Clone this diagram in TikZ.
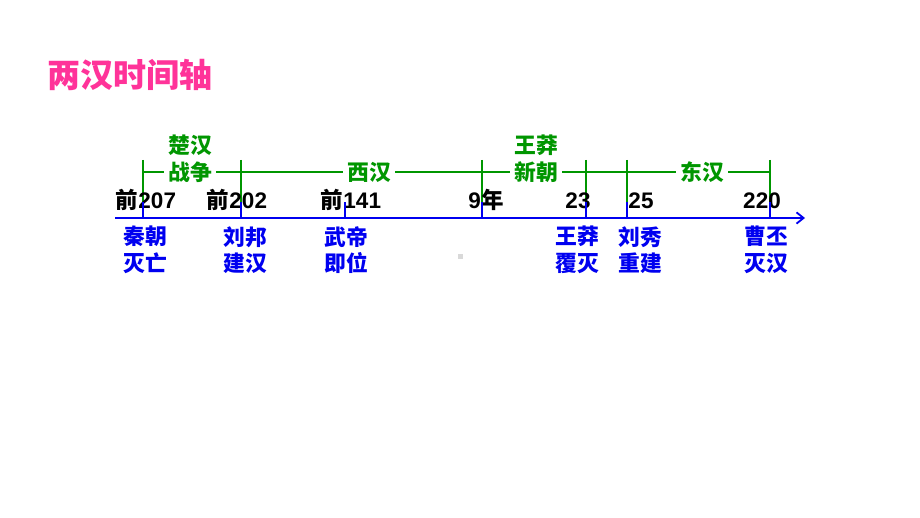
\documentclass[tikz,border=0pt]{standalone}
\usepackage{fontspec}
\setmainfont{Liberation Sans}
\newfontfamily\cjk{Noto Sans CJK SC}
\usetikzlibrary{arrows.meta}
\definecolor{titlepink}{RGB}{255,51,153}
\definecolor{axisblue}{RGB}{0,0,240}
\definecolor{eragreen}{RGB}{0,150,0}
\begin{document}
\begin{tikzpicture}[x=0.025cm,y=-0.025cm,
    yearlbl/.style={font=\bfseries\fontsize{16}{16}\selectfont,text=black,inner sep=0pt,anchor=base},
    eventlbl/.style={font=\cjk\bfseries\fontsize{15.5}{19}\selectfont,text=axisblue,align=center,inner sep=0pt},
    eralbl/.style={font=\cjk\bfseries\fontsize{15.5}{19}\selectfont,text=eragreen,align=center,fill=white,inner sep=3pt},
    axistick/.style={axisblue,line width=1.3pt},
    erabar/.style={eragreen,line width=1pt}]
    \useasboundingbox (0,0) rectangle (920,518);
    %% Title
    \node[font=\cjk\bfseries\fontsize{23.5}{23.5}\selectfont,text=titlepink,anchor=west,inner sep=0pt] (title) at (47,75) {两汉时间轴};
    %% Axis points: t = on axis, m = top of blue tick, g = top of green bar, h = on green line
    \foreach \x/\nm in {143/a,241/b,345/c,482/d,586/e,627/f,770/g}{
        \coordinate (t\nm) at (\x,218);
        \coordinate (m\nm) at (\x,202);
        \coordinate (g\nm) at (\x,160);
        \coordinate (h\nm) at (\x,172);
    }
    \coordinate (axL) at (115,218);
    \coordinate (axR) at (805,218);
    %% Green era bars
    \draw[erabar] (ha) -- (hg);
    \foreach \nm in {a,b,d,e,f,g}
        \draw[erabar] (g\nm) -- (m\nm);
    \node[eralbl] (chuhan) at (190,158.5) {楚汉\\战争};
    \node[eralbl] (xihan) at (369,172) {西汉};
    \node[eralbl] (xinchao) at (536,158.5) {王莽\\新朝};
    \node[eralbl] (donghan) at (702,172) {东汉};
    %% Years
    \node[yearlbl] (y207) at (146,208) {{\cjk 前}207};
    \node[yearlbl] (y202) at (237,208) {{\cjk 前}202};
    \node[yearlbl] (y141) at (351,208) {{\cjk 前}141};
    \node[yearlbl] (y9) at (486,208) {9{\cjk 年}};
    \node[yearlbl] (y23) at (578,208) {23};
    \node[yearlbl] (y25) at (641,208) {25};
    \node[yearlbl] (y220) at (762,208) {220};
    %% Axis with ticks
    \foreach \nm in {a,b,c,d,e,f,g}
        \draw[axistick] (m\nm) -- (t\nm);
    \draw[axisblue,line width=1.3pt,-{Straight Barb[length=5pt,width=8pt]}] (axL) -- (axR);
    %% Events
    \node[eventlbl] (qin) at (145,250) {秦朝\\灭亡};
    \node[eventlbl] (liubang) at (245,250) {刘邦\\建汉};
    \node[eventlbl] (wudi) at (346,250) {武帝\\即位};
    \node[eventlbl] (wangmang) at (577,250) {王莽\\覆灭};
    \node[eventlbl] (liuxiu) at (640,250) {刘秀\\重建};
    \node[eventlbl] (caopi) at (766,250) {曹丕\\灭汉};
    %% small mark
    \fill[black!15] (458,254) rectangle (463,259);
\end{tikzpicture}
\end{document}
